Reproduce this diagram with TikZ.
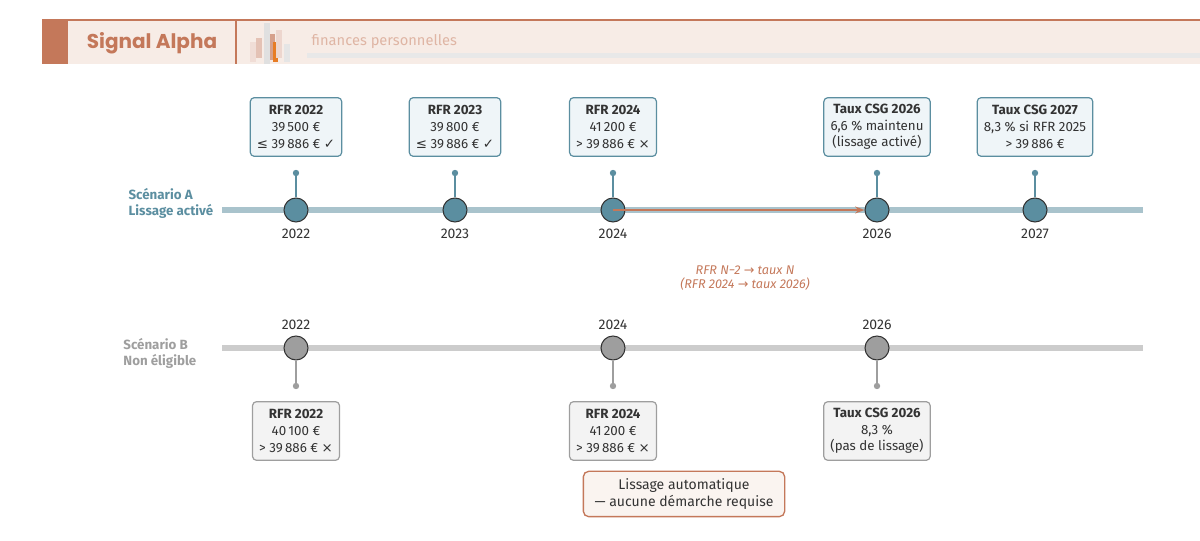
\documentclass[tikz,border=0pt]{standalone}
\usepackage{fontspec}
\setmainfont{Fira Sans}
\newfontfamily\titlefont{Poppins}
\newfontfamily\symfont{DejaVu Sans}
\usetikzlibrary{positioning,arrows.meta}
\definecolor{accent}{HTML}{C4785A}
\definecolor{paper}{HTML}{F7ECE6}
\definecolor{teal}{HTML}{5B8EA0}
\definecolor{tealline}{HTML}{A9C3CC}
\definecolor{tealfill}{HTML}{EFF5F8}
\definecolor{greyline}{HTML}{CCCCCC}
\definecolor{greydot}{HTML}{9E9E9E}
\definecolor{greyfill}{HTML}{F3F3F3}
\definecolor{ink}{HTML}{333333}
\tikzset{
  yr/.style={circle,draw=ink,line width=0.8pt,minimum size=18pt,inner sep=0pt},
  boxA/.style={draw=teal,fill=tealfill,rounded corners=3pt,line width=0.9pt,align=center,font=\fontsize{10}{12.5}\selectfont,text=ink,minimum height=44pt,inner sep=3pt,inner xsep=5pt},
  boxB/.style={boxA,draw=greydot,fill=greyfill},
  stem/.style={line width=1pt},
  lab/.style={font=\fontsize{10.5}{12}\selectfont,text=ink}
}
\newcommand{\chk}{{\symfont\char"2713}}
\newcommand{\crs}{{\symfont\char"00D7}}
\begin{document}
\begin{tikzpicture}[x=0.75pt,y=-0.75pt]
\useasboundingbox (0,0) rectangle (1200,541);
% header
\fill[paper] (42,20) rectangle (1200,64);
\draw[accent,line width=0.8pt] (42,20) -- (1200,20);
\fill[accent] (42,20) rectangle (68,64);
\draw[accent,line width=0.8pt] (236,20) -- (236,64);
\node[text=accent,font=\titlefont\fontsize{15}{17}\selectfont\bfseries] (brand) at (152,43) {Signal Alpha};
\fill[accent!25] (250,42) rectangle (256,62);
\fill[accent!45] (256,38) rectangle (262,58);
\fill[black!12] (264,23) rectangle (270,64);
\fill[accent!70] (270,34) rectangle (275,60);
\fill[orange!60!accent] (273,42) rectangle (278,62);
\fill[accent!30] (276,30) rectangle (282,58);
\fill[black!10] (284,44) rectangle (290,62);
\fill[black!9] (307,53) rectangle (1200,58);
\node[anchor=west,text=accent!55,font=\fontsize{11}{12}\selectfont] (sub) at (307,42) {finances personnelles};
% scenario A
\node[anchor=east,align=left,text=teal,font=\fontsize{10}{12}\selectfont\bfseries] (scA) at (218,203) {Scénario A\\Lissage activé};
\draw[tealline,line width=4.5pt] (222,210) -- (1143,210);
\foreach \n/\x in {a22/296,a23/455,a24/613,a26/877,a27/1035}{
  \node[yr,fill=teal] (\n) at (\x,210) {};
  \coordinate (\n d) at (\x,173);
  \draw[teal,stem] (\n) -- (\n d);
  \fill[teal] (\n d) circle (3.2);
}
\foreach \n/\t in {a22/2022,a23/2023,a24/2024,a26/2026,a27/2027}
  \node[lab,below=1pt of \n] {\t};
\node[boxA] (bA22) at (296,127) {\textbf{RFR 2022}\\39\,500 €\\{\symfont≤} 39\,886 € \chk};
\node[boxA] (bA23) at (455,127) {\textbf{RFR 2023}\\39\,800 €\\{\symfont≤} 39\,886 € \chk};
\node[boxA] (bA24) at (613,127) {\textbf{RFR 2024}\\41\,200 €\\> 39\,886 € \crs};
\node[boxA] (bA26) at (877,127) {\textbf{Taux CSG 2026}\\6,6 \% maintenu\\(lissage activé)};
\node[boxA] (bA27) at (1035,127) {\textbf{Taux CSG 2027}\\8,3 \% si RFR 2025\\> 39\,886 €};
\draw[accent,line width=1.5pt,-{Stealth[length=7pt]}] (a24.center) -- (a26.west);
\node[text=accent,align=center,font=\fontsize{9.5}{11}\selectfont\itshape] (rule) at (745,278) {RFR N−2 {\symfont→} taux N\\(RFR 2024 {\symfont→} taux 2026)};
% scenario B
\node[anchor=east,align=left,text=greydot,font=\fontsize{10}{12}\selectfont\bfseries] (scB) at (201,353) {Scénario B\\Non éligible};
\draw[greyline,line width=4.5pt] (222,348) -- (1143,348);
\foreach \n/\x in {b22/296,b24/613,b26/877}{
  \node[yr,fill=greydot] (\n) at (\x,348) {};
  \coordinate (\n d) at (\x,386);
  \draw[greydot,stem] (\n) -- (\n d);
  \fill[greydot] (\n d) circle (3.2);
}
\foreach \n/\t in {b22/2022,b24/2024,b26/2026}
  \node[lab,above=1pt of \n] {\t};
\node[boxB] (bB22) at (296,431) {\textbf{RFR 2022}\\40\,100 €\\> 39\,886 € \crs};
\node[boxB] (bB24) at (613,431) {\textbf{RFR 2024}\\41\,200 €\\> 39\,886 € \crs};
\node[boxB] (bB26) at (877,431) {\textbf{Taux CSG 2026}\\8,3 \%\\(pas de lissage)};
\node[draw=accent,fill=paper!60,rounded corners=4pt,line width=1pt,align=center,text=ink,font=\fontsize{10.5}{12.5}\selectfont,minimum width=151pt,minimum height=34pt] (note) at (684,494) {Lissage automatique\\— aucune démarche requise};
\end{tikzpicture}
\end{document}
